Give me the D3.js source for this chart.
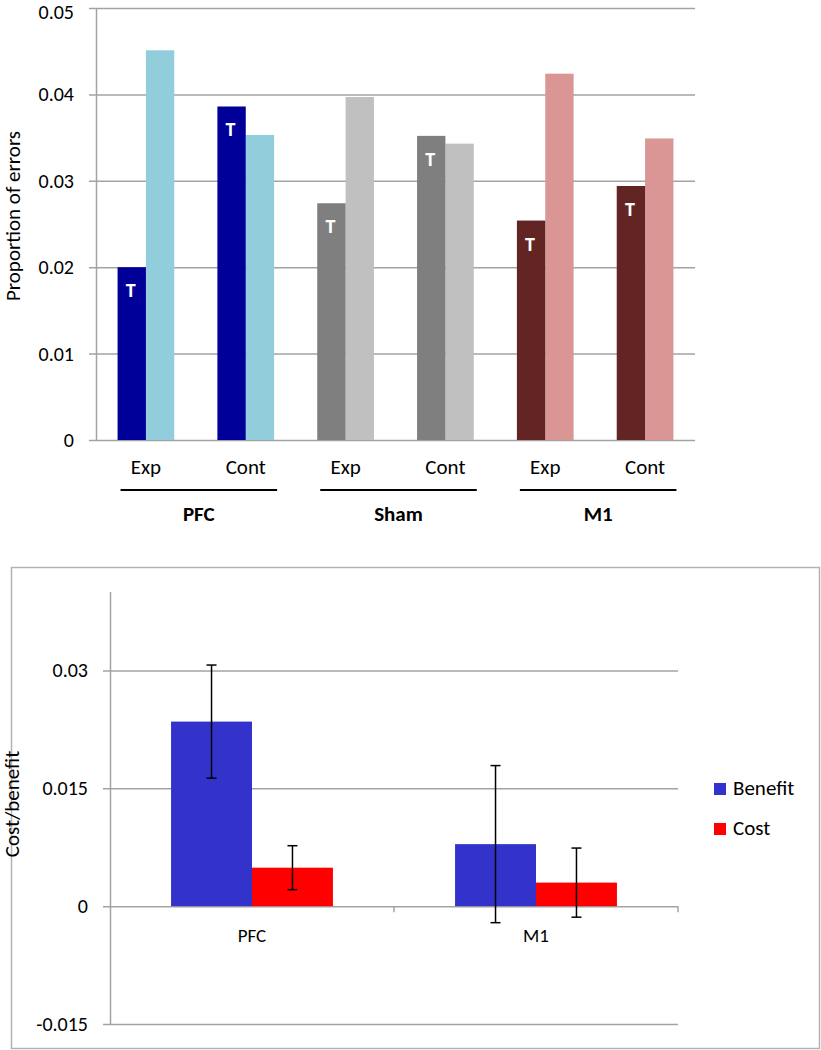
<!DOCTYPE html>
<html>
<head>
<meta charset="utf-8">
<script src="https://cdn.jsdelivr.net/npm/d3@7"></script>
<style>
  body { margin: 0; background: #fff; }
  svg text { font-family: Calibri, Carlito, Lato, sans-serif; fill: #000; }
  .grid line { stroke: #a3a3a3; stroke-width: 1.5; }
  .grid path { display: none; }
</style>
</head>
<body>
<svg id="chart" width="821" height="1050"></svg>
<script>
// top panel: proportion of errors
const groups = ["PFC", "Sham", "M1"]
const conditions = ["Exp", "Cont"]
const trainedValues = [0.0200, 0.0386, 0.0274, 0.0352, 0.0254, 0.0294]
const untrainedValues = [0.0451, 0.0353, 0.0397, 0.0343, 0.0424, 0.0349]
const trainedColors = ["#000099", "#7f7f7f", "#632523"]
const untrainedColors = ["#92cddc", "#c0c0c0", "#d99694"]
const topTicks = [0, 0.01, 0.02, 0.03, 0.04, 0.05]

// bottom panel: cost / benefit
const regions = ["PFC", "M1"]
const seriesNames = ["Benefit", "Cost"]
const benefit = [0.0235, 0.0079]
const benefitErr = [0.0072, 0.0100]
const cost = [0.0049, 0.0030]
const costErr = [0.0028, 0.0044]
const seriesColors = ["#3333cc", "#ff0000"]
const bottomTicks = [-0.015, 0, 0.015, 0.03]

const svg = d3.select("#chart")

// ---------- top chart ----------
const categories = []
groups.forEach(g => conditions.forEach(c => categories.push(g + " " + c)))

const x1 = d3.scaleBand().domain(categories).range([96, 695])
    .paddingInner(0.432).paddingOuter(0.216)
const sub1 = d3.scaleBand().domain(["t", "u"]).range([0, x1.bandwidth()])
const y1 = d3.scaleLinear().domain([0, 0.05]).range([440, 8])

const topAxis = svg.append("g")
    .attr("class", "grid")
    .attr("transform", "translate(89,0)")
    .call(d3.axisLeft(y1).tickValues(topTicks).tickFormat(d => String(d))
        .tickSizeInner(-(695 - 89)).tickSizeOuter(0).tickPadding(15))
topAxis.selectAll("text")
    .style("font-size", "20px")
    .style("font-family", "Calibri, Carlito, Lato, sans-serif")
// keep the top label inside the picture
topAxis.selectAll("text").filter(d => d === 0.05).attr("dy", "0.5em")

svg.append("line")
    .attr("x1", 96.5).attr("x2", 96.5)
    .attr("y1", y1(0.05)).attr("y2", y1(0))
    .attr("stroke", "#a3a3a3").attr("stroke-width", 1.5)

const topData = categories.map((c, i) => ({
    cat: c,
    group: Math.floor(i / 2),
    cond: conditions[i % 2],
    t: trainedValues[i],
    u: untrainedValues[i]
}))

const cg = svg.selectAll(".cat")
    .data(topData)
    .enter().append("g")
    .attr("class", "cat")
    .attr("transform", d => `translate(${x1(d.cat)},0)`)

cg.append("rect")
    .attr("x", sub1("u"))
    .attr("y", d => y1(d.u))
    .attr("width", sub1.bandwidth())
    .attr("height", d => y1(0) - y1(d.u))
    .attr("fill", d => untrainedColors[d.group])

cg.append("rect")
    .attr("x", sub1("t"))
    .attr("y", d => y1(d.t))
    .attr("width", sub1.bandwidth())
    .attr("height", d => y1(0) - y1(d.t))
    .attr("fill", d => trainedColors[d.group])

cg.append("text")
    .attr("x", sub1("t") + sub1.bandwidth() / 2 - 1)
    .attr("y", d => y1(d.t) + 30)
    .attr("text-anchor", "middle")
    .style("font-size", "20px")
    .style("font-weight", "bold")
    .style("fill", "#fff")
    .text("T")

cg.append("text")
    .attr("x", x1.bandwidth() / 2)
    .attr("y", 474)
    .attr("text-anchor", "middle")
    .style("font-size", "21px")
    .text(d => d.cond)

groups.forEach((g, i) => {
    const left = x1(g + " " + conditions[0])
    const right = x1(g + " " + conditions[1]) + x1.bandwidth()
    const mid = (left + right) / 2
    svg.append("line")
        .attr("x1", left + 3).attr("x2", right + 3)
        .attr("y1", 490).attr("y2", 490)
        .attr("stroke", "#000").attr("stroke-width", 2)
    svg.append("text")
        .attr("x", mid + 3)
        .attr("y", 521)
        .attr("text-anchor", "middle")
        .style("font-size", "21px")
        .style("font-weight", "bold")
        .text(g)
})

svg.append("text")
    .attr("transform", "translate(20,216) rotate(-90)")
    .attr("text-anchor", "middle")
    .style("font-size", "21px")
    .text("Proportion of errors")

// ---------- bottom chart ----------
svg.append("rect")
    .attr("x", 11.5).attr("y", 567.5)
    .attr("width", 808).attr("height", 481)
    .attr("fill", "none")
    .attr("stroke", "#b3b3b3").attr("stroke-width", 1.5)

const x2 = d3.scaleBand().domain(regions).range([110, 678])
    .paddingInner(0.43).paddingOuter(0.215)
const sub2 = d3.scaleBand().domain(seriesNames).range([0, x2.bandwidth()])
const y2 = d3.scaleLinear().domain([-0.015, 0.04]).range([1024, 592])

svg.append("g")
    .attr("class", "grid")
    .attr("transform", "translate(103,0)")
    .call(d3.axisLeft(y2).tickValues(bottomTicks).tickFormat(d => String(d))
        .tickSizeInner(-(678 - 103)).tickSizeOuter(0).tickPadding(15))
    .selectAll("text")
    .style("font-size", "20px")
    .style("font-family", "Calibri, Carlito, Lato, sans-serif")

svg.append("line")
    .attr("x1", 110.5).attr("x2", 110.5)
    .attr("y1", y2(0.04)).attr("y2", y2(-0.015))
    .attr("stroke", "#a3a3a3").attr("stroke-width", 1.5)

// category ticks on the zero line
const bounds = regions.map(r => x2(r) + x2.bandwidth() + x2.step() * x2.paddingInner() / 2)
svg.selectAll(".ctick")
    .data(bounds)
    .enter().append("line")
    .attr("x1", d => d).attr("x2", d => d)
    .attr("y1", y2(0)).attr("y2", y2(0) + 6)
    .attr("stroke", "#a3a3a3").attr("stroke-width", 1.5)

const bottomData = regions.map((r, i) => [
    { region: r, s: 0, v: benefit[i], e: benefitErr[i] },
    { region: r, s: 1, v: cost[i], e: costErr[i] }
]).flat()

const bars = svg.selectAll(".cb")
    .data(bottomData)
    .enter().append("g")
    .attr("class", "cb")
    .attr("transform", d => `translate(${x2(d.region) + sub2(seriesNames[d.s])},0)`)

bars.append("rect")
    .attr("y", d => y2(d.v))
    .attr("width", sub2.bandwidth())
    .attr("height", d => y2(0) - y2(d.v))
    .attr("fill", d => seriesColors[d.s])

const bw = sub2.bandwidth()
bars.append("line")
    .attr("x1", bw / 2).attr("x2", bw / 2)
    .attr("y1", d => y2(d.v + d.e)).attr("y2", d => y2(d.v - d.e))
    .attr("stroke", "#000").attr("stroke-width", 1.5)
bars.append("line")
    .attr("x1", bw / 2 - 5).attr("x2", bw / 2 + 5)
    .attr("y1", d => y2(d.v + d.e)).attr("y2", d => y2(d.v + d.e))
    .attr("stroke", "#000").attr("stroke-width", 1.5)
bars.append("line")
    .attr("x1", bw / 2 - 5).attr("x2", bw / 2 + 5)
    .attr("y1", d => y2(d.v - d.e)).attr("y2", d => y2(d.v - d.e))
    .attr("stroke", "#000").attr("stroke-width", 1.5)

svg.selectAll(".rlabel")
    .data(regions)
    .enter().append("text")
    .attr("x", d => x2(d) + x2.bandwidth() / 2)
    .attr("y", 942)
    .attr("text-anchor", "middle")
    .style("font-size", "19px")
    .text(d => d)

svg.append("text")
    .attr("transform", "translate(19,804) rotate(-90)")
    .attr("text-anchor", "middle")
    .style("font-size", "21px")
    .text("Cost/benefit")

const legend = svg.selectAll(".leg")
    .data(seriesNames)
    .enter().append("g")
    .attr("class", "leg")
    .attr("transform", (d, i) => `translate(714,${783 + i * 40})`)

legend.append("rect")
    .attr("width", 12).attr("height", 12)
    .attr("fill", (d, i) => seriesColors[i])

legend.append("text")
    .attr("x", 19).attr("y", 12)
    .style("font-size", "21px")
    .text(d => d)
</script>
</body>
</html>
